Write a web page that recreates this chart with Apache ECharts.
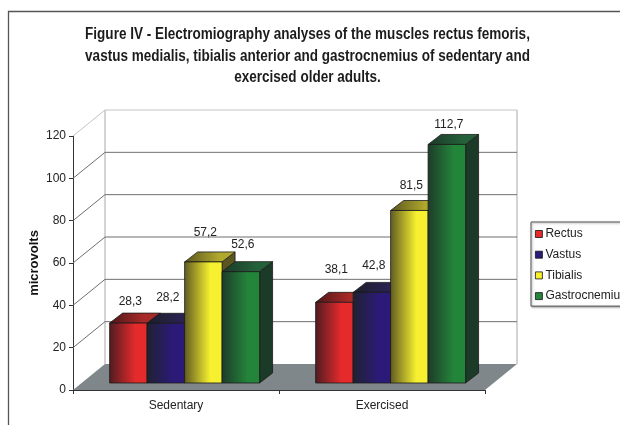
<!DOCTYPE html>
<html><head><meta charset="utf-8">
<style>html,body{margin:0;padding:0;background:#fff;overflow:hidden}#c{width:620px;height:425px;filter:blur(0.45px)}</style>
<script src="https://cdn.jsdelivr.net/npm/echarts@6/dist/echarts.min.js"></script></head>
<body><div id="c"></div>
<script>
const categories = ['Sedentary', 'Exercised'];
const rectus = [28.3, 38.1];
const vastus = [28.2, 42.8];
const tibialis = [57.2, 81.5];
const gastrocnemius = [52.6, 112.7];
const yTicks = [0, 20, 40, 60, 80, 100, 120];
const titleText = 'Figure IV - Electromiography analyses of the muscles rectus femoris,\nvastus medialis, tibialis anterior and gastrocnemius of sedentary and\nexercised older adults.';

const WALL = {dx: 32, dy: -26}, BAR = {dx: 13, dy: -10}, GAP = {dx: 8.6, dy: -7};
const palette = [
  {name: 'Rectus', values: rectus, dark: '#4f1c20', main: '#e52a2c', side: '#4a1618', topA: '#4f1618', topB: '#a82a28'},
  {name: 'Vastus', values: vastus, dark: '#1f2230', main: '#2c1a78', side: '#181a30', topA: '#1c1e2a', topB: '#2a2250'},
  {name: 'Tibialis', values: tibialis, dark: '#5f5a22', main: '#f6f030', side: '#5a5520', topA: '#5a5520', topB: '#b0a82c'},
  {name: 'Gastrocnemius', values: gastrocnemius, dark: '#1e3b2a', main: '#23853a', side: '#1c3a28', topA: '#1c3a28', topB: '#24603a'}
];
const labelLift = [[21, 33], [26, 27], [29, 25], [27, 20]];
const fmt = v => v.toFixed(1).replace('.', ',');

function wallItem(params, api) {
  const cs = params.coordSys, v = api.value(0), y = api.coord([0, v])[1];
  const l = cs.x, r = cs.x + cs.width;
  const kids = [];
  const stroke = v === 120 ? '#c4c4c4' : '#6f6f6f';
  if (v === 0) {
    kids.push({type: 'polygon', shape: {points: [[l, y], [r, y], [r + WALL.dx, y + WALL.dy], [l + WALL.dx, y + WALL.dy]]}, style: {fill: '#80878a'}});
    kids.push({type: 'line', shape: {x1: l + WALL.dx, y1: y + WALL.dy, x2: l + WALL.dx, y2: cs.y + WALL.dy}, style: {stroke: '#a8a8a8', lineWidth: 1}});
    kids.push({type: 'line', shape: {x1: r + WALL.dx, y1: y + WALL.dy, x2: r + WALL.dx, y2: cs.y + WALL.dy}, style: {stroke: '#a8a8a8', lineWidth: 1}});
  } else {
    kids.push({type: 'line', shape: {x1: l + WALL.dx, y1: y + WALL.dy, x2: r + WALL.dx, y2: y + WALL.dy}, style: {stroke, lineWidth: 1}});
    kids.push({type: 'line', shape: {x1: l, y1: y, x2: l + WALL.dx, y2: y + WALL.dy}, style: {stroke, lineWidth: 1}});
  }
  return {type: 'group', children: kids};
}

function barRenderer(si) {
  return function (params, api) {
    const i = api.value(0), v = api.value(1), c = palette[si];
    const top = api.coord([i, v]), base = api.coord([i, 0]);
    const w = api.size([1, 0])[0] * 0.182;
    const x0 = top[0] + GAP.dx + (si - 2) * w, x1 = x0 + w;
    const yt = top[1] + GAP.dy, yb = base[1] + GAP.dy;
    const grad = (a, b) => new echarts.graphic.LinearGradient(0, 0, 1, 0, [{offset: 0, color: a}, {offset: 0.68, color: b}, {offset: 1, color: b}]);
    const edge = {stroke: '#1a1a1a', lineWidth: 0.8};
    return {type: 'group', children: [
      {type: 'polygon', shape: {points: [[x1, yb], [x1 + BAR.dx, yb + BAR.dy], [x1 + BAR.dx, yt + BAR.dy], [x1, yt]]}, style: {fill: c.side, ...edge}},
      {type: 'polygon', shape: {points: [[x0, yt], [x1, yt], [x1 + BAR.dx, yt + BAR.dy], [x0 + BAR.dx, yt + BAR.dy]]}, style: {fill: grad(c.topA, c.topB), ...edge}},
      {type: 'rect', shape: {x: x0, y: yt, width: w, height: yb - yt}, style: {fill: grad(c.dark, c.main), ...edge}},
      {type: 'text', z2: 100, style: {text: fmt(v), x: (x0 + x1) / 2 + 2, y: yt - labelLift[si][i], align: 'center', verticalAlign: 'middle', fill: '#222', font: '12px "Liberation Sans"'}}
    ]};
  };
}

const chart = echarts.init(document.getElementById('c'), null, {renderer: 'canvas', width: 620, height: 425});
chart.setOption({
  animation: false,
  backgroundColor: '#fff',
  grid: {left: 73, top: 136, width: 412, height: 254, containLabel: false},
  xAxis: {type: 'category', data: categories,
    axisLine: {lineStyle: {color: '#333', width: 1}},
    axisTick: {show: true, length: 4, lineStyle: {color: '#333'}},
    axisLabel: {color: '#222', fontFamily: 'Liberation Sans', fontSize: 12, margin: 10},
    splitLine: {show: false}},
  yAxis: {type: 'value', min: 0, max: 120, interval: 20, name: 'microvolts', nameLocation: 'middle', nameGap: 32,
    nameRotate: 90, nameMoveOverlap: false,
    nameTextStyle: {color: '#111', fontFamily: 'Liberation Sans', fontWeight: 'bold', fontSize: 13},
    axisLine: {show: true, lineStyle: {color: '#333', width: 1}},
    axisTick: {show: true, length: 4, lineStyle: {color: '#333'}},
    axisLabel: {color: '#222', fontFamily: 'Liberation Sans', fontSize: 12, margin: 7},
    splitLine: {show: false}},
  legend: {orient: 'vertical', left: 531, top: 222, padding: [6, 4, 4, 4], itemWidth: 7, itemHeight: 7, itemGap: 8.7,
    icon: 'rect', data: palette.map(p => p.name), backgroundColor: '#fff', borderColor: '#555', borderWidth: 1,
    shadowColor: 'rgba(0,0,0,0.35)', shadowBlur: 2, shadowOffsetX: 1, shadowOffsetY: 1,
    itemStyle: {borderColor: '#111', borderWidth: 0.8},
    textStyle: {color: '#222', fontFamily: 'Liberation Sans', fontSize: 12, padding: [0, 0, 0, -2]}},
  graphic: [
    {type: 'polyline', silent: true, shape: {points: [[8.5, 425], [8.5, 11.5], [620, 11.5]]}, style: {stroke: '#555', lineWidth: 1.3, fill: null}, z: 50},
    {type: 'text', silent: true, x: 307.5, y: 24, scaleX: 0.845, z: 50,
      style: {text: titleText, align: 'center', verticalAlign: 'top', font: 'bold 16px "Liberation Sans"', lineHeight: 21.5, fill: '#1c1c1c'}}
  ],
  series: [
    {type: 'custom', name: 'wall', silent: true, z: 1, coordinateSystem: 'cartesian2d', renderItem: wallItem,
      encode: {y: 0}, data: yTicks.map(t => [t])},
    ...palette.map((p, si) => ({
      type: 'custom', name: p.name, silent: true, z: 2 + si, coordinateSystem: 'cartesian2d',
      renderItem: barRenderer(si), itemStyle: {color: p.main},
      encode: {x: 0, y: 1}, data: p.values.map((v, i) => [i, v])
    }))
  ]
});
</script></body></html>
